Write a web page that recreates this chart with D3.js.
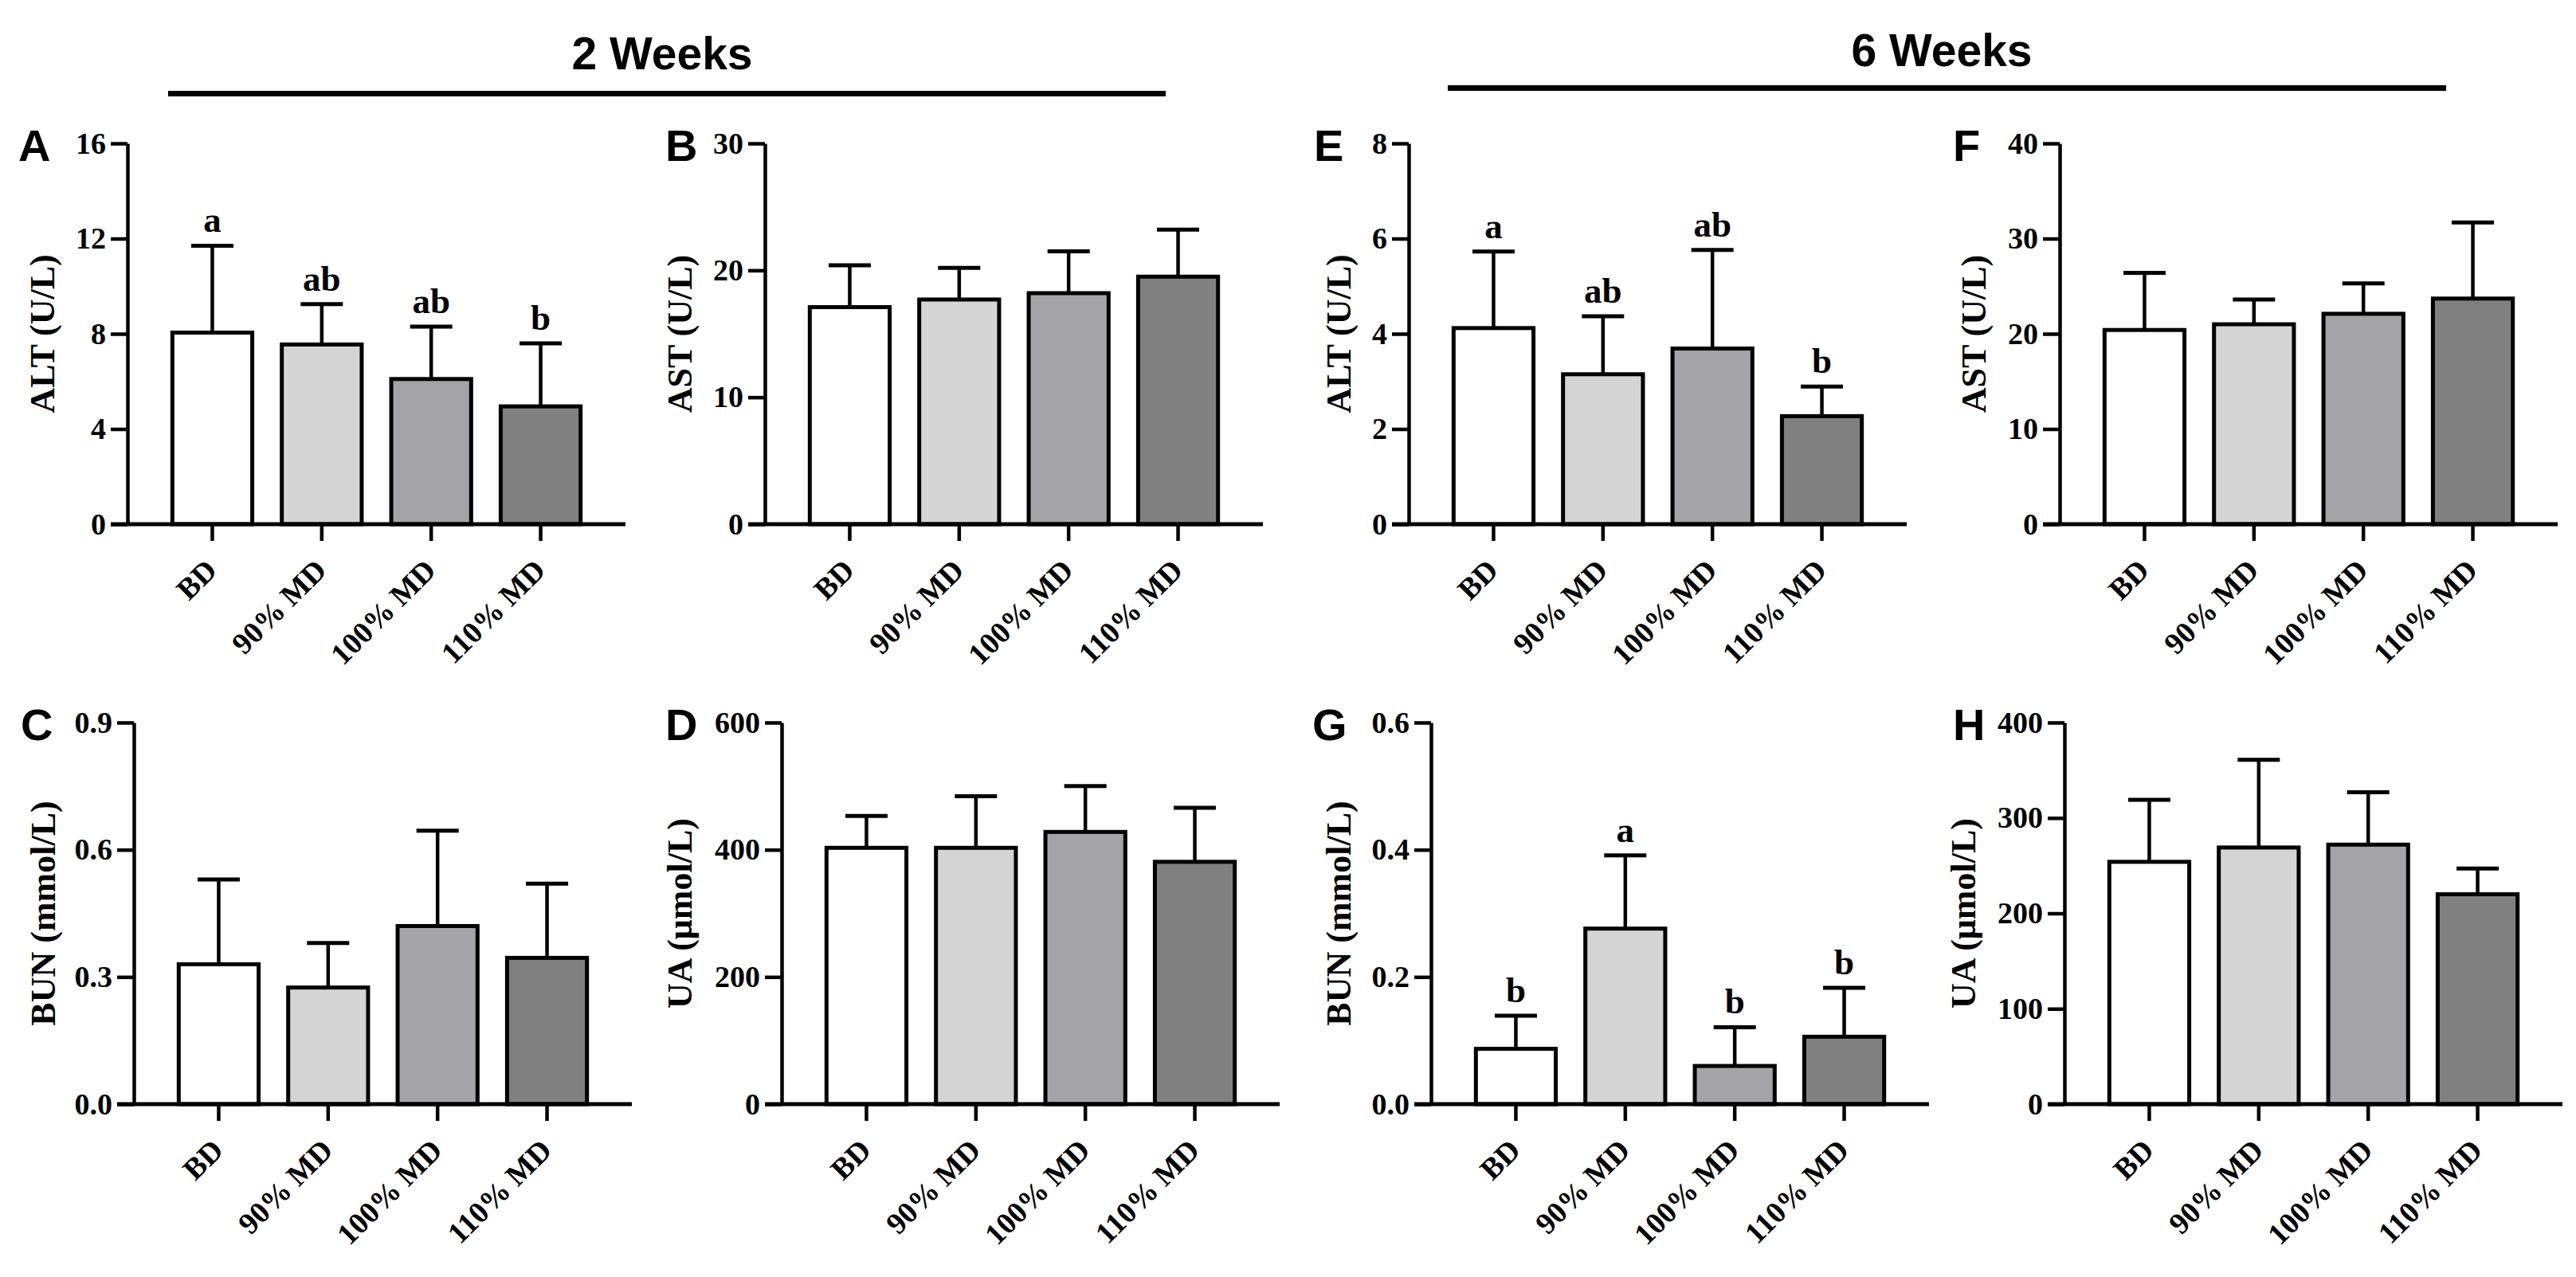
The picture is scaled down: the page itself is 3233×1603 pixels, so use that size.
<!DOCTYPE html>
<html>
<head>
<meta charset="utf-8">
<script src="https://cdn.jsdelivr.net/npm/d3@7"></script>
<style>
  body { margin: 0; background: #fff; }
  svg { display: block; }
</style>
</head>
<body>
<div id="chart"></div>
<script>
// groups and bar fills
var groups = ["BD", "90% MD", "100% MD", "110% MD"];
var fills = ["#ffffff", "#d4d4d4", "#a4a4a8", "#808080"];

// 2 weeks
var altMean2 = [8.05, 7.55, 6.1, 4.95];
var altTop2 = [11.7, 9.25, 8.3, 7.6];
var altTicks2 = [0, 4, 8, 12, 16];
var altLetters2 = ["a", "ab", "ab", "b"];

var astMean2 = [17.1, 17.7, 18.2, 19.5];
var astTop2 = [20.4, 20.2, 21.5, 23.2];
var astTicks2 = [0, 10, 20, 30];

var bunMean2 = [0.33, 0.275, 0.42, 0.345];
var bunTop2 = [0.53, 0.38, 0.645, 0.52];
var bunTicks2 = [0, 0.3, 0.6, 0.9];

var uaMean2 = [403, 403, 428, 381];
var uaTop2 = [453, 484, 500, 466];
var uaTicks2 = [0, 200, 400, 600];

// 6 weeks
var altMean6 = [4.12, 3.15, 3.69, 2.27];
var altTop6 = [5.73, 4.37, 5.76, 2.89];
var altTicks6 = [0, 2, 4, 6, 8];
var altLetters6 = ["a", "ab", "ab", "b"];

var astMean6 = [20.4, 21.0, 22.1, 23.7];
var astTop6 = [26.4, 23.6, 25.3, 31.7];
var astTicks6 = [0, 10, 20, 30, 40];

var bunMean6 = [0.087, 0.276, 0.06, 0.106];
var bunTop6 = [0.139, 0.391, 0.121, 0.183];
var bunTicks6 = [0, 0.2, 0.4, 0.6];
var bunLetters6 = ["b", "a", "b", "b"];

var uaMean6 = [254, 269, 272, 220];
var uaTop6 = [319, 361, 327, 247];
var uaTicks6 = [0, 100, 200, 300, 400];

var sections = [
    { title: "2 Weeks", cx: 831, ty: 87, x1: 211, x2: 1463, ly: 117.5 },
    { title: "6 Weeks", cx: 2437, ty: 83, x1: 1817, x2: 3070, ly: 110.5 }
];

var panels = [
    { id: "A", label: "ALT (U/L)", mean: altMean2, top: altTop2, ticks: altTicks2, letters: altLetters2, fmt: "d" },
    { id: "B", label: "AST (U/L)", mean: astMean2, top: astTop2, ticks: astTicks2, fmt: "d" },
    { id: "C", label: "BUN (mmol/L)", mean: bunMean2, top: bunTop2, ticks: bunTicks2, fmt: ".1f" },
    { id: "D", label: "UA (\u03bcmol/L)", mean: uaMean2, top: uaTop2, ticks: uaTicks2, fmt: "d" },
    { id: "E", label: "ALT (U/L)", mean: altMean6, top: altTop6, ticks: altTicks6, letters: altLetters6, fmt: "d" },
    { id: "F", label: "AST (U/L)", mean: astMean6, top: astTop6, ticks: astTicks6, fmt: "d" },
    { id: "G", label: "BUN (mmol/L)", mean: bunMean6, top: bunTop6, ticks: bunTicks6, letters: bunLetters6, fmt: ".1f" },
    { id: "H", label: "UA (\u03bcmol/L)", mean: uaMean6, top: uaTop6, ticks: uaTicks6, fmt: "d" }
];

// where each panel sits on the page
var layout = {
    A: { x: 160, top: 180, bottom: 658, letterX: 23, titleX: 53 },
    B: { x: 960, top: 180, bottom: 658, letterX: 835, titleX: 853 },
    C: { x: 168, top: 907, bottom: 1386, letterX: 26, titleX: 54 },
    D: { x: 981, top: 907, bottom: 1386, letterX: 835, titleX: 853 },
    E: { x: 1768, top: 180, bottom: 658, letterX: 1649, titleX: 1680 },
    F: { x: 2585, top: 180, bottom: 658, letterX: 2451, titleX: 2477 },
    G: { x: 1796, top: 907, bottom: 1386, letterX: 1647, titleX: 1680 },
    H: { x: 2591, top: 907, bottom: 1386, letterX: 2451, titleX: 2464 }
};

var W = 3233, H = 1603;
var plotW = 625;
var serif = "'Liberation Serif', 'Times New Roman', serif";
var sans = "'Liberation Sans', Arial, sans-serif";

var svg = d3.select("#chart").append("svg")
    .attr("width", W)
    .attr("height", H)
    .attr("viewBox", "0 0 " + W + " " + H);

svg.append("rect").attr("width", W).attr("height", H).attr("fill", "#fff");

// section headers
sections.forEach(function(s) {
    svg.append("text")
        .attr("x", s.cx)
        .attr("y", s.ty)
        .attr("text-anchor", "middle")
        .style("font-family", sans)
        .style("font-weight", "bold")
        .style("font-size", "57px")
        .text(s.title);

    svg.append("line")
        .attr("x1", s.x1).attr("x2", s.x2)
        .attr("y1", s.ly).attr("y2", s.ly)
        .attr("stroke", "#000")
        .attr("stroke-width", 7);
});

panels.forEach(function(p) {
    var L = layout[p.id];
    var g = svg.append("g");

    var x = d3.scaleBand()
        .domain(groups)
        .range([L.x, L.x + plotW])
        .paddingInner(0.27)
        .paddingOuter(0.41);

    var y = d3.scaleLinear()
        .domain([0, p.ticks[p.ticks.length - 1]])
        .range([L.bottom, L.top]);

    // bars
    g.selectAll("rect.bar")
        .data(p.mean)
        .enter()
        .append("rect")
        .attr("class", "bar")
        .attr("x", function(d, i) { return x(groups[i]); })
        .attr("y", function(d) { return y(d); })
        .attr("width", x.bandwidth())
        .attr("height", function(d) { return y(0) - y(d); })
        .attr("fill", function(d, i) { return fills[i]; })
        .attr("stroke", "#000")
        .attr("stroke-width", 5);

    // error bars (upper only)
    var capW = 53;
    p.top.forEach(function(t, i) {
        var cx = x(groups[i]) + x.bandwidth() / 2;
        g.append("line")
            .attr("x1", cx).attr("x2", cx)
            .attr("y1", y(p.mean[i])).attr("y2", y(t))
            .attr("stroke", "#000").attr("stroke-width", 4.5);
        g.append("line")
            .attr("x1", cx - capW / 2).attr("x2", cx + capW / 2)
            .attr("y1", y(t)).attr("y2", y(t))
            .attr("stroke", "#000").attr("stroke-width", 5);
        if (p.letters) {
            g.append("text")
                .attr("x", cx)
                .attr("y", y(t) - 17)
                .attr("text-anchor", "middle")
                .style("font-family", serif)
                .style("font-weight", "bold")
                .style("font-size", "45px")
                .text(p.letters[i]);
        }
    });

    // y axis
    var yAxis = d3.axisLeft(y)
        .tickValues(p.ticks)
        .tickFormat(d3.format(p.fmt))
        .tickSize(21)
        .tickSizeOuter(0)
        .tickPadding(6);

    var ya = g.append("g")
        .attr("transform", "translate(" + L.x + ",0)")
        .call(yAxis);
    ya.select(".domain").attr("stroke-width", 4.5).attr("stroke", "#000");
    ya.selectAll(".tick line").attr("stroke-width", 4.5).attr("stroke", "#000");
    ya.selectAll(".tick text")
        .attr("fill", "#000")
        .style("font-family", serif)
        .style("font-weight", "bold")
        .style("font-size", "38px");

    // x axis: baseline runs a tick-length past the y axis
    g.append("line")
        .attr("x1", L.x - 21).attr("x2", L.x + plotW)
        .attr("y1", L.bottom).attr("y2", L.bottom)
        .attr("stroke", "#000").attr("stroke-width", 5);

    var xAxis = d3.axisBottom(x)
        .tickSize(21)
        .tickSizeOuter(0)
        .tickFormat("");

    var xa = g.append("g")
        .attr("transform", "translate(0," + L.bottom + ")")
        .call(xAxis);
    xa.select(".domain").remove();
    xa.selectAll(".tick line").attr("stroke-width", 4.5).attr("stroke", "#000");

    // rotated group labels
    g.selectAll("text.xlab")
        .data(groups)
        .enter()
        .append("text")
        .attr("class", "xlab")
        .attr("transform", function(d) {
            var cx = x(d) + x.bandwidth() / 2;
            return "translate(" + (cx + 8) + "," + (L.bottom + 60) + ") rotate(-45)";
        })
        .attr("text-anchor", "end")
        .style("font-family", serif)
        .style("font-weight", "bold")
        .style("font-size", "38px")
        .text(function(d) { return d; });

    // y axis title
    g.append("text")
        .attr("transform", "translate(" + L.titleX + "," + ((L.top + L.bottom) / 2) + ") rotate(-90)")
        .attr("text-anchor", "middle")
        .attr("dy", "0.35em")
        .style("font-family", serif)
        .style("font-weight", "bold")
        .style("font-size", "44px")
        .text(p.label);

    // panel letter
    g.append("text")
        .attr("x", L.letterX)
        .attr("y", L.top + 22)
        .style("font-family", sans)
        .style("font-weight", "bold")
        .style("font-size", "56px")
        .text(p.id);
});
</script>
</body>
</html>
